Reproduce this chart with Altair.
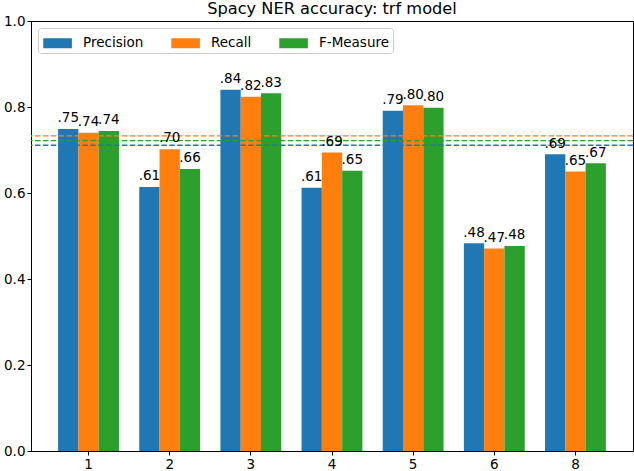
import altair as alt
import pandas as pd

# ---- data ----
groups = ["1", "2", "3", "4", "5", "6", "8"]
metrics = ["Precision", "Recall", "F-Measure"]
precision = [0.749, 0.614, 0.840, 0.612, 0.791, 0.483, 0.690]
recall = [0.740, 0.702, 0.824, 0.694, 0.804, 0.471, 0.650]
f_measure = [0.744, 0.656, 0.832, 0.652, 0.798, 0.477, 0.669]
mean_lines = [0.711, 0.733, 0.722]
colors = ["#1f77b4", "#ff7f0e", "#2ca02c"]
y_ticks = [0.0, 0.2, 0.4, 0.6, 0.8, 1.0]
title_text = ["Spacy NER accuracy: trf model"]

rows = []
for m, series in zip(metrics, [precision, recall, f_measure]):
    for g, v in zip(groups, series):
        rows.append({"group": g, "metric": m, "value": v, "label": f"{v:.2f}"[1:]})
df = pd.DataFrame(rows)
df_mean = pd.DataFrame({"metric": metrics, "value": mean_lines})
df_title = pd.DataFrame({"title": title_text})

FONT = "DejaVu Sans"
FS = 13.5
W, H = 602, 430

color_scale = alt.Scale(domain=metrics, range=colors)
x_enc = alt.X(
    "group:N",
    sort=groups,
    scale=alt.Scale(paddingInner=0.25, paddingOuter=0.334),
    axis=alt.Axis(title=None, labelAngle=0),
)
xo_enc = alt.XOffset("metric:N", sort=metrics, scale=alt.Scale(paddingInner=0, paddingOuter=0))
y_enc = alt.Y(
    "value:Q",
    scale=alt.Scale(domain=[0, 1], nice=False, zero=True),
    axis=alt.Axis(title=None, values=y_ticks, format=".1f", grid=False),
)

bars = alt.Chart(df).mark_bar().encode(
    x=x_enc,
    xOffset=xo_enc,
    y=y_enc,
    color=alt.Color(
        "metric:N",
        sort=metrics,
        scale=color_scale,
        legend=alt.Legend(
            title=None,
            orient="none",
            legendX=7,
            legendY=7,
            direction="horizontal",
            columns=3,
            columnPadding=25,
            symbolType="M-0.81,-0.417L1.575,-0.417L1.575,0.417L-0.81,0.417Z",
            symbolSize=576,
            symbolStrokeWidth=0,
            labelOffset=18,
            labelFont=FONT,
            labelFontSize=FS,
            labelColor="black",
            labelLimit=300,
            padding=3,
            fillColor="white",
            strokeColor="#cccccc",
            cornerRadius=3,
        ),
    ),
)

rules = alt.Chart(df_mean).mark_rule(strokeDash=[5.5, 2.4], strokeWidth=1.3).encode(
    y=alt.Y("value:Q"),
    color=alt.Color("metric:N", sort=metrics, scale=color_scale, legend=None),
)

labels = alt.Chart(df).mark_text(
    font=FONT, fontSize=FS, baseline="alphabetic", align="center", dy=-6.7, color="black"
).encode(
    x=x_enc,
    xOffset=xo_enc,
    y=y_enc,
    text="label:N",
)

# chart title, placed centred above the plot area
title = alt.Chart(df_title).mark_text(
    font=FONT, fontSize=16.2, baseline="alphabetic", align="center", color="black"
).encode(
    text="title:N",
    x=alt.value(W / 2),
    y=alt.value(-7),
)

chart = (
    alt.layer(bars, rules, labels, title)
    .properties(
        width=W,
        height=H,
        autosize=alt.AutoSizeParams(type="none"),
        padding={"left": 31, "top": 21, "right": 1, "bottom": 20},
    )
    .configure_view(stroke="black", strokeWidth=1)
    .configure_axis(
        domainColor="black",
        domainWidth=1,
        tickColor="black",
        tickWidth=1,
        tickSize=4,
        labelPadding=2,
        labelFont=FONT,
        labelFontSize=FS,
        labelColor="black",
    )
)

chart.save("out.html", embed_options={"renderer": "svg", "actions": False})
